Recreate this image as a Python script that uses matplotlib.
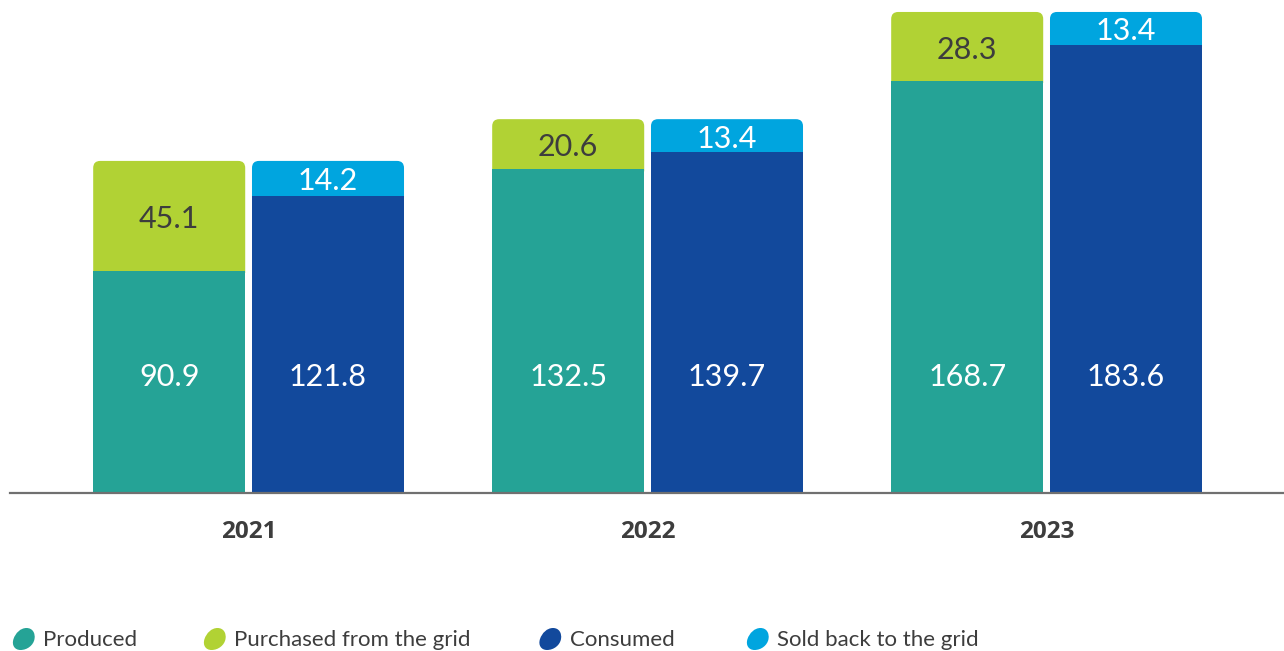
import matplotlib
matplotlib.use('Agg')
import matplotlib.pyplot as plt
from matplotlib.path import Path
from matplotlib.patches import PathPatch
import numpy as np

years = ['2021', '2022', '2023']
produced = [90.9, 132.5, 168.7]
purchased = [45.1, 20.6, 28.3]
consumed = [121.8, 139.7, 183.6]
sold = [14.2, 13.4, 13.4]

legend_labels = ['Produced', 'Purchased from the grid', 'Consumed', 'Sold back to the grid']

C_PROD = '#25a396'
C_PURCH = '#b1d234'
C_CONS = '#12499c'
C_SOLD = '#00a5df'
TXT_DARK = '#3d3d3d'

W, H = 1284, 651
fig = plt.figure(figsize=(W / 100, H / 100), dpi=100, facecolor='white')
ax = fig.add_axes([10 / W, 158 / H, 1274 / W, 493 / H])
ax.set_xlim(-0.598, 2.595)
ax.set_ylim(0, 201.9)
ax.axis('off')

bar_w = 0.381
offset = 0.199
# corner radius in data units (x per px, y per px)
rx = 7 / 399
ry = 7 / 2.442


def rounded_top(x0, y0, w, h, color):
    # start a little below the segment so no seam shows under the lower bar
    y1 = y0 + h
    y0 = y0 - 0.8
    x1 = x0 + w
    verts = [(x0, y0), (x1, y0), (x1, y1 - ry), (x1, y1), (x1 - rx, y1),
             (x0 + rx, y1), (x0, y1), (x0, y1 - ry), (x0, y0)]
    codes = [Path.MOVETO, Path.LINETO, Path.LINETO, Path.CURVE3, Path.CURVE3,
             Path.LINETO, Path.CURVE3, Path.CURVE3, Path.CLOSEPOLY]
    ax.add_patch(PathPatch(Path(verts, codes), facecolor=color, edgecolor='none', zorder=0.9))


num_font = dict(family='Lato', fontsize=22)
dy = -1.3
x = np.arange(len(years))
for i in x:
    xl = i - offset - bar_w / 2
    xr = i + offset - bar_w / 2
    ax.bar(i - offset, produced[i], bar_w, color=C_PROD, linewidth=0, zorder=1)
    rounded_top(xl, produced[i], bar_w, purchased[i], C_PURCH)
    ax.bar(i + offset, consumed[i], bar_w, color=C_CONS, linewidth=0, zorder=1)
    rounded_top(xr, consumed[i], bar_w, sold[i], C_SOLD)

    ax.text(i - offset, 49 + dy, f'{produced[i]:.1f}', color='white', ha='center', va='center', **num_font)
    ax.text(i + offset, 49 + dy, f'{consumed[i]:.1f}', color='white', ha='center', va='center', **num_font)
    ax.text(i - offset, produced[i] + purchased[i] / 2 + dy, f'{purchased[i]:.1f}',
            color=TXT_DARK, ha='center', va='center', **num_font)
    ax.text(i + offset, consumed[i] + sold[i] / 2 + dy, f'{sold[i]:.1f}',
            color='white', ha='center', va='center', **num_font)

    ax.text(i, -16.0, years[i], color=TXT_DARK, ha='center', va='center',
            family='Open Sans', fontweight='bold', fontsize=17.5)

ax.axhline(0, color='#707070', linewidth=1.6, clip_on=False, zorder=5)

# legend blobs drawn in figure pixels
blob = np.array([
    (3, 11), (9, 11), (12, 6), (11, 0),
    (10, -6), (4, -11), (-3, -11), (-9, -11), (-12, -6), (-10, 0),
    (-8, 6), (-3, 11), (3, 11),
])
blob_codes = [Path.MOVETO] + [Path.CURVE4] * 12
legend_colors = [C_PROD, C_PURCH, C_CONS, C_SOLD]
blob_x = [23.5, 214.5, 550, 757.5]
text_x = [43, 234, 570, 777]
ly = H - 639
for lab, col, bx, tx in zip(legend_labels, legend_colors, blob_x, text_x):
    pts = (blob + [bx, ly]) / [W, H]
    fig.patches.append(PathPatch(Path(pts, blob_codes), facecolor=col, edgecolor='none',
                                 transform=fig.transFigure))
    fig.text(tx / W, ly / H - 0.002, lab, color=TXT_DARK, ha='left', va='center',
             family='Lato', fontsize=16)

fig.savefig('out.png', dpi=100, facecolor='white')
plt.close()
